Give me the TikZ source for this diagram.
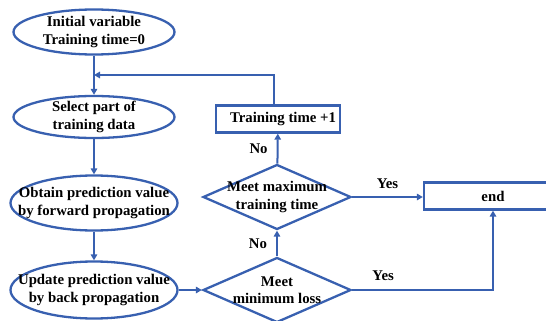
\documentclass[tikz,border=0pt]{standalone}
\usepackage{fontspec}
\setmainfont{Liberation Serif}
\usetikzlibrary{shapes.geometric,arrows.meta,positioning}
\definecolor{flowblue}{RGB}{56,96,176}

\begin{document}
\begin{tikzpicture}[x=1pt, y=-1pt, line width=2.3pt,
  txt/.style={font=\bfseries\fontsize{14.8}{17.5}\selectfont, align=center, inner sep=0pt},
  oval/.style 2 args={ellipse, draw=flowblue, inner sep=0pt, minimum width=#1, minimum height=#2},
  decision/.style={diamond, draw=flowblue, inner sep=0pt, minimum width=148pt, minimum height=65pt},
  stepbox/.style={rectangle, draw=flowblue, txt, minimum height=27pt},
  flow/.style={draw=flowblue, line width=2pt, -{Triangle[length=6pt,width=6.5pt]}}]
  \useasboundingbox (0,0) rectangle (546,321);
  % left column
  \node[oval={161pt}{45pt}, label={[txt]center:Initial variable\\Training time=0}] (init) at (94,32) {};
  \node[oval={161pt}{42pt}, label={[txt]center:Select part of\\training data}] (select) at (94,117) {};
  \node[oval={167pt}{55pt}, label={[txt]center:Obtain prediction value\\by forward propagation}] (obtain) at (94,203) {};
  \node[oval={167pt}{57pt}, label={[txt]center:Update prediction value\\by back propagation}] (update) at (94,290) {};
  % right part
  \node[decision, label={[txt]center:Meet\\minimum loss}] (minloss) at (277,290) {};
  \node[decision, label={[txt]center:Meet maximum\\training time}] (maxtime) at (277,197) {};
  \node[stepbox, minimum width=124pt] (inc) at (278,119) {\hspace{10pt}Training time +1};
  \node[stepbox, minimum width=138pt] (end) at (493,196) {end};
  \coordinate (loop) at (94,75);

  \draw[flow] (init) -- (select);
  \draw[flow] (select) -- (obtain);
  \draw[flow] (obtain) -- (update);
  \draw[flow] (update) -- (minloss);
  \draw[flow] (minloss) -- node[txt, left=9pt] {No} (maxtime);
  \draw[flow] (maxtime) -- node[txt, left=9pt] {No} (inc);
  \draw[flow] (maxtime.east) -- node[txt, above=7pt] {Yes} (end.west |- maxtime.east);
  \draw[flow] (minloss.east) -| node[txt, pos=0.11, above=8pt] {Yes} (end.south);
  \draw[flow] ([xshift=-4pt]inc.north) |- (loop);
\end{tikzpicture}
\end{document}
